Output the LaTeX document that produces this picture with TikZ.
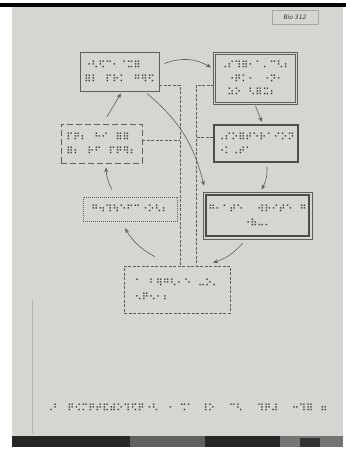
\documentclass[tikz,border=0pt]{standalone}
\usepackage{fontspec}
\setmainfont{DejaVu Sans}
\newfontfamily\brl{DejaVu Sans}
\usetikzlibrary{arrows.meta,calc}
\definecolor{paper}{RGB}{213,214,210}
\definecolor{ink}{RGB}{95,95,92}
\definecolor{dotc}{RGB}{50,50,50}
\begin{document}
\begin{tikzpicture}[x=1pt,y=-1pt,
  bx/.style={inner sep=0pt, font=\brl\fontsize{9.6}{13.5}\selectfont, text=dotc, align=left},
  solidbox/.style={bx, draw=ink, line width=0.8pt},
  dblbox/.style={bx, draw=ink, line width=0.7pt, double=paper, double distance=1.8pt},
  thickbox/.style={bx, draw=ink!80!black, line width=2pt},
  thinbox/.style={bx, draw=ink, line width=0.6pt},
  dashbox/.style={bx, draw=ink, line width=0.6pt, dash pattern=on 3pt off 1.5pt},
  longdashbox/.style={bx, draw=ink, line width=0.7pt, dash pattern=on 6pt off 3pt},
  dotbox/.style={bx, draw=ink, line width=0.6pt, dash pattern=on 0.8pt off 1.2pt},
  trunk/.style={draw=ink, line width=0.6pt, dash pattern=on 3pt off 1.5pt},
  arr/.style={draw=ink, line width=0.6pt, -{Stealth[length=5pt,width=4pt]}}
]
\useasboundingbox (0,0) rectangle (346,459);
\fill[white] (0,0) rectangle (346,459);
\fill[black] (0,3) rectangle (346,7);
\fill[paper] (12,7) rectangle (343,436);
\draw[paper!85!black, line width=0.4pt] (32,300) -- (32,434);
% bottom dark strip
\fill[black!85] (12,436) rectangle (343,447);
\fill[black!55!paper] (130,436) rectangle (205,447);
\fill[black!45!paper] (280,436) rectangle (343,447);
\fill[black!80] (300,438) rectangle (320,447);

% label
\node[draw=gray!70, line width=0.5pt, minimum width=46pt, minimum height=14pt, inner sep=0pt,
  font=\itshape\fontsize{6}{7}\selectfont, text=black!80] (lab) at (295,17) {Bio 312};

% boxes
\node[solidbox, minimum width=79pt, minimum height=39pt] (b1) at (119.5,71.5)
  {⠐⠣⠫⠉⠂⠈⠭⠿\\⠿⠇⠀⠏⠗⠅⠀⠛⠻⠫};
\node[dblbox, minimum width=82pt, minimum height=50pt] (b2) at (255.5,78.5)
  {⠠⠎⠹⠿⠂⠁⠄⠉⠣⠆\\⠀⠐⠟⠅⠂⠀⠐⠝⠂\\⠀⠵⠕⠀⠣⠿⠭⠆};
\node[thickbox, minimum width=84pt, minimum height=37pt] (b3) at (256,143.5)
  {⠠⠎⠕⠿⠞⠑⠗⠁⠊⠕⠝\\⠐⠅⠠⠞⠁⠀⠀⠀⠀⠀⠀};
\node[thinbox, minimum width=109pt, minimum height=47pt] (b4) at (257.5,215.5)
  {⠛⠂⠁⠞⠑⠀⠀⠺⠗⠊⠞⠑⠀⠛\\⠀⠀⠀⠀⠀⠐⠷⠤⠄⠀⠀⠀⠀⠀};
\draw[ink!80!black, line width=2.2pt] ([shift={(3.5pt,-3.5pt)}]b4.north west) rectangle ([shift={(-3.5pt,3.5pt)}]b4.south east);
\node[dashbox, minimum width=106pt, minimum height=47pt] (b5) at (177,289.5)
  {⠁⠀⠃⠻⠛⠣⠂⠑⠀⠤⠕⠄\\⠢⠟⠢⠂⠆⠀⠀⠀⠀⠀⠀⠀};
\node[dotbox, minimum width=94pt, minimum height=24pt] (b6) at (130,209)
  {⠛⠲⠹⠳⠑⠋⠉⠐⠕⠣⠆};
\node[longdashbox, minimum width=81pt, minimum height=39pt] (b7) at (101.5,143.5)
  {⠏⠟⠆⠀⠓⠊⠀⠿⠿⠀\\⠿⠆⠀⠗⠋⠀⠏⠟⠻⠆};

% bottom braille line
\node[bx, anchor=west] (cap) at (46,408)
  {⠠⠃⠀⠟⠪⠍⠟⠞⠯⠾⠕⠹⠫⠟⠐⠣⠀⠐⠀⠩⠁⠀⠸⠕⠀⠀⠉⠣⠀⠀⠹⠟⠼⠀⠀⠒⠹⠿⠀⠶};

% trunk
\coordinate (tl) at (180,85);
\coordinate (tr) at (196,85);
\draw[trunk] (b1.east |- tl) -- (tl) -- (tl |- b5.north);
\draw[trunk] (b2.west |- tr) -- (tr) -- (tr |- b5.north);
\draw[trunk] (b7.east |- 0,140) -- (tl |- 0,140);
\draw[trunk] (b3.west |- 0,137) -- (tr |- 0,137);

% cycle arrows
\draw[arr] ([xshift=5pt,yshift=8pt]b1.east) to[bend left=25] ([xshift=-3pt,yshift=11pt]b2.west);
\draw[arr] ([yshift=-2pt]b2.south) -- ([xshift=6pt,yshift=2pt]b3.north);
\draw[arr] ([xshift=11pt,yshift=-4pt]b3.south) to[bend left=15] ([xshift=4pt,yshift=2pt]b4.north);
\draw[arr] ([xshift=-15pt,yshift=-4pt]b4.south) to[bend left=15] ([xshift=36pt,yshift=3pt]b5.north);
\draw[arr] ([xshift=-22pt,yshift=9pt]b5.north) to[bend left=15] ([xshift=-5pt,yshift=-7pt]b6.south);
\draw[arr] ([xshift=-18pt,yshift=7pt]b6.north) to[bend left=12] ([xshift=4.5pt,yshift=-4pt]b7.south);
\draw[arr] ([xshift=5.5pt,yshift=7pt]b7.north) -- ([xshift=1.5pt,yshift=-2pt]b1.south);
\draw[arr] ([xshift=27.5pt,yshift=-2pt]b1.south) to[bend left=18] ([xshift=-53.5pt,yshift=6pt]b4.north);
\end{tikzpicture}
\end{document}
